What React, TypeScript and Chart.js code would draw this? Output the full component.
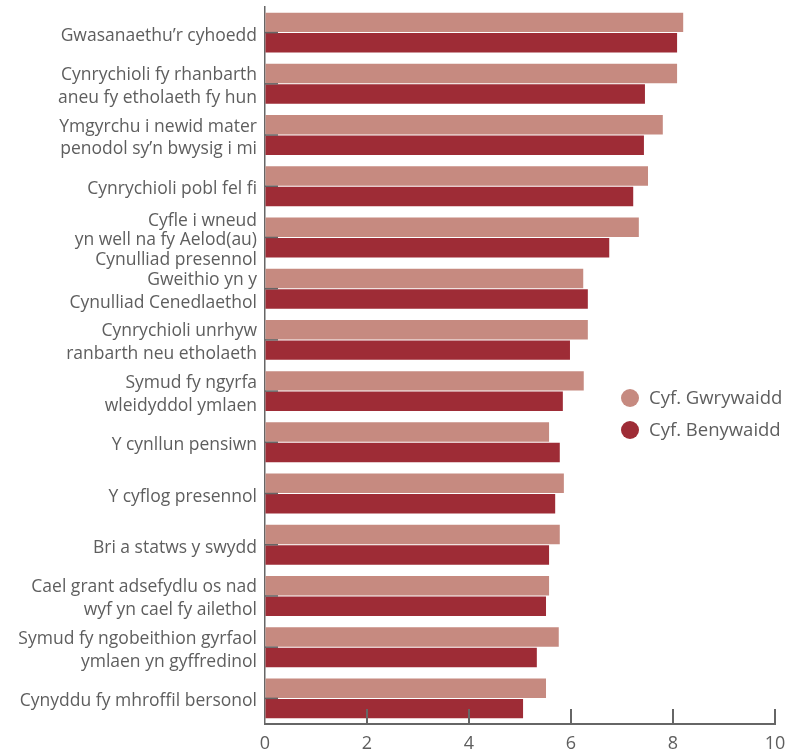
import React, { useEffect, useRef } from "react";
import { Chart, registerables } from "chart.js";

Chart.register(...registerables);

const categories: string[][] = [
  ["Gwasanaethu’r cyhoedd"],
  ["Cynrychioli fy rhanbarth", "aneu fy etholaeth fy hun"],
  ["Ymgyrchu i newid mater", "penodol sy’n bwysig i mi"],
  ["Cynrychioli pobl fel fi"],
  ["Cyfle i wneud", "yn well na fy Aelod(au)", "Cynulliad presennol"],
  ["Gweithio yn y", "Cynulliad Cenedlaethol"],
  ["Cynrychioli unrhyw", "ranbarth neu etholaeth"],
  ["Symud fy ngyrfa", "wleidyddol ymlaen"],
  ["Y cynllun pensiwn"],
  ["Y cyflog presennol"],
  ["Bri a statws y swydd"],
  ["Cael grant adsefydlu os nad", "wyf yn cael fy ailethol"],
  ["Symud fy ngobeithion gyrfaol", "ymlaen yn gyffredinol"],
  ["Cynyddu fy mhroffil bersonol"],
];

const seriesNames = ["Cyf. Gwrywaidd", "Cyf. Benywaidd"];
const maleValues = [8.2, 8.08, 7.8, 7.51, 7.33, 6.24, 6.33, 6.25, 5.57, 5.86, 5.78, 5.57, 5.76, 5.51];
const femaleValues = [8.08, 7.45, 7.43, 7.22, 6.75, 6.33, 5.98, 5.84, 5.78, 5.69, 5.57, 5.51, 5.33, 5.06];
const xTicks = [0, 2, 4, 6, 8, 10];

const LIGHT = "#C68A80";
const DARK = "#9E2C36";
const AXIS = "#666666";
const TEXT = "#5E5E5E";
const FONT = "'Open Sans', 'Noto Sans', sans-serif";

export default function App() {
  const ref = useRef<HTMLCanvasElement | null>(null);

  useEffect(() => {
    if (!ref.current) return;
    const overlay = {
      id: "overlay",
      afterDatasetsDraw(chart: any) {
        const { ctx, chartArea, scales } = chart;
        const x = scales.x;
        const y = scales.y;
        ctx.save();
        ctx.strokeStyle = AXIS;
        ctx.lineWidth = 2;
        xTicks.forEach((v) => {
          if (v === 0) return;
          const px = Math.round(x.getPixelForValue(v));
          ctx.beginPath();
          ctx.moveTo(px, chartArea.bottom);
          ctx.lineTo(px, chartArea.bottom - 15);
          ctx.stroke();
        });
        ctx.lineWidth = 1.5;
        categories.forEach((_, i) => {
          const py = y.getPixelForValue(i);
          ctx.beginPath();
          ctx.moveTo(chartArea.left, py);
          ctx.lineTo(chartArea.left + 13, py);
          ctx.stroke();
        });
        // legend
        const lx = 630;
        const ly = [398, 430];
        const colors = [LIGHT, DARK];
        ctx.font = `18.5px ${FONT}`;
        ctx.textBaseline = "middle";
        ctx.textAlign = "left";
        seriesNames.forEach((name, i) => {
          ctx.fillStyle = colors[i];
          ctx.beginPath();
          ctx.arc(lx, ly[i], 9, 0, Math.PI * 2);
          ctx.fill();
          ctx.fillStyle = TEXT;
          ctx.fillText(name, lx + 19, ly[i] + 1);
        });
        ctx.restore();
      },
    };

    const chart = new Chart(ref.current, {
      type: "bar",
      data: {
        labels: categories,
        datasets: [
          { label: seriesNames[0], data: maleValues, backgroundColor: LIGHT, categoryPercentage: 0.8, barPercentage: 0.95 },
          { label: seriesNames[1], data: femaleValues, backgroundColor: DARK, categoryPercentage: 0.8, barPercentage: 0.95 },
        ],
      },
      options: {
        indexAxis: "y",
        animation: false,
        responsive: false,
        maintainAspectRatio: false,
        layout: { padding: { left: 0, right: 15, top: 7, bottom: 0 } },
        plugins: { legend: { display: false }, tooltip: { enabled: false } },
        scales: {
          x: {
            min: 0,
            max: 10,
            afterBuildTicks: (scale: any) => {
              scale.ticks = xTicks.map((v) => ({ value: v }));
            },
            afterFit: (scale: any) => {
              scale.height = 32;
              scale.paddingLeft = 0;
              scale.paddingRight = 0;
            },
            grid: { display: true, drawOnChartArea: false, drawTicks: false },
            border: { display: true, color: AXIS, width: 2 },
            ticks: { color: TEXT, font: { size: 18, family: FONT }, padding: 9 },
          },
          y: {
            afterFit: (scale: any) => {
              scale.width = 265;
              scale.paddingTop = 0;
              scale.paddingBottom = 0;
            },
            grid: { display: true, drawOnChartArea: false, drawTicks: false },
            border: { display: true, color: AXIS, width: 1.5 },
            ticks: {
              autoSkip: false,
              color: TEXT,
              padding: 8,
              labelOffset: 3,
              font: (c: any) => ({
                size: 17.5,
                family: FONT,
                lineHeight: categories[c.index] && categories[c.index].length === 3 ? 1.09 : 1.31,
              }),
            },
          },
        },
      },
      plugins: [overlay],
    });
    return () => chart.destroy();
  }, []);

  return (
    <div style={{ position: "absolute", left: 0, top: 0, width: 790, height: 756, background: "#fff" }}>
      <canvas ref={ref} width={790} height={756} style={{ width: 790, height: 756, display: "block" }} />
    </div>
  );
}
